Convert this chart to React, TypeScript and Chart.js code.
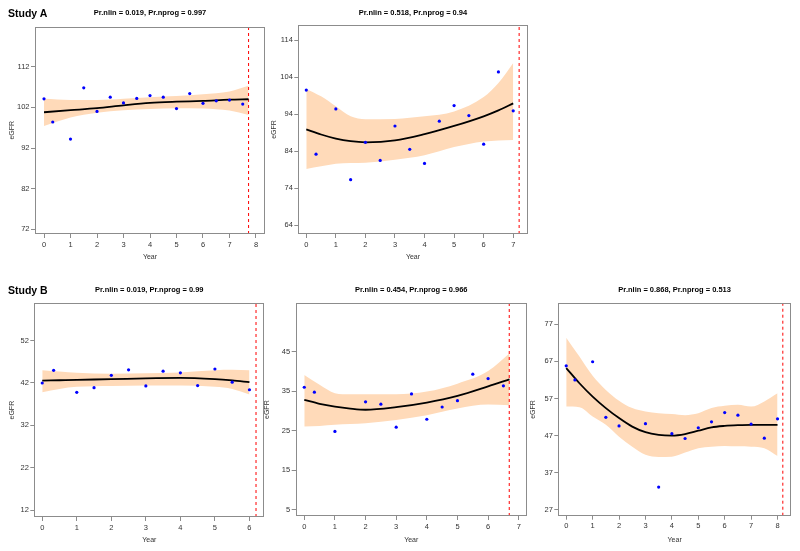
import React, { useEffect, useRef } from "react";
import { Chart, registerables } from "chart.js";
Chart.register(...registerables);

const FONT = '"Liberation Sans", Arial, Helvetica, sans-serif';

// ---------- Study A, panel 1 ----------
const a1Title = "Pr.nlin = 0.019, Pr.nprog = 0.997";
const a1XTicks = [0, 1, 2, 3, 4, 5, 6, 7, 8];
const a1YTicks = [72, 82, 92, 102, 112];
const a1PointX = [0, 0.33, 1, 1.5, 2, 2.5, 3, 3.5, 4, 4.5, 5, 5.5, 6, 6.5, 7, 7.5];
const a1PointY = [104.1, 98.4, 94.2, 106.8, 101.0, 104.5, 103.1, 104.2, 104.9, 104.5, 101.7, 105.4, 103.0, 103.6, 103.8, 102.8];
const a1CurveX = [0, 1, 2, 3, 4, 5, 6, 7, 7.72];
const a1Fit = [100.8, 101.3, 101.8, 102.5, 103.1, 103.4, 103.6, 103.9, 104.0];
const a1Upper = [104.1, 103.8, 103.8, 104.1, 104.5, 104.8, 105.2, 105.9, 107.3];
const a1Lower = [97.4, 99.5, 100.7, 101.3, 101.6, 101.8, 101.7, 101.2, 100.1];
const a1Cutoff = 7.72;

// ---------- Study A, panel 2 ----------
const a2Title = "Pr.nlin = 0.518, Pr.nprog = 0.94";
const a2XTicks = [0, 1, 2, 3, 4, 5, 6, 7];
const a2YTicks = [64, 74, 84, 94, 104, 114];
const a2PointX = [0, 0.33, 1, 1.5, 2, 2.5, 3, 3.5, 4, 4.5, 5, 5.5, 6, 6.5, 7];
const a2PointY = [100.5, 83.2, 95.4, 76.3, 86.4, 81.5, 90.8, 84.5, 80.7, 92.1, 96.3, 93.6, 85.9, 105.4, 94.9];
const a2CurveX = [0, 0.5, 1, 1.5, 2, 3, 4, 5, 6, 6.5, 7];
const a2Fit = [89.9, 88.5, 87.4, 86.7, 86.4, 86.9, 88.6, 90.8, 93.4, 95.0, 96.9];
const a2Upper = [100.8, 98.8, 96.1, 93.4, 92.6, 92.7, 93.4, 94.7, 98.6, 102.4, 107.8];
const a2Lower = [79.2, 79.9, 80.6, 80.8, 80.9, 81.7, 82.9, 85.1, 86.6, 86.9, 87.0];
const a2Cutoff = 7.2;

// ---------- Study B, panel 1 ----------
const b1Title = "Pr.nlin = 0.019, Pr.nprog = 0.99";
const b1XTicks = [0, 1, 2, 3, 4, 5, 6];
const b1YTicks = [12, 22, 32, 42, 52];
const b1PointX = [0, 0.33, 1, 1.5, 2, 2.5, 3, 3.5, 4, 4.5, 5, 5.5, 6];
const b1PointY = [42.0, 45.0, 39.8, 40.9, 43.8, 45.1, 41.3, 44.8, 44.4, 41.4, 45.3, 42.2, 40.4];
const b1CurveX = [0, 0.5, 1, 2, 3, 4, 5, 5.5, 6];
const b1Fit = [42.55, 42.65, 42.75, 42.9, 43.1, 43.2, 42.9, 42.6, 42.2];
const b1Upper = [45.0, 44.7, 44.4, 44.2, 44.3, 44.5, 45.0, 45.1, 45.0];
const b1Lower = [39.8, 40.6, 41.1, 41.3, 41.4, 41.4, 41.1, 40.6, 39.3];
const b1Cutoff = 6.19;

// ---------- Study B, panel 2 ----------
const b2Title = "Pr.nlin = 0.454, Pr.nprog = 0.966";
const b2XTicks = [0, 1, 2, 3, 4, 5, 6, 7];
const b2YTicks = [5, 15, 25, 35, 45];
const b2PointX = [0, 0.33, 1, 2, 2.5, 3, 3.5, 4, 4.5, 5, 5.5, 6, 6.5];
const b2PointY = [36.0, 34.75, 24.8, 32.3, 31.7, 25.9, 34.3, 27.9, 31.0, 32.6, 39.3, 38.2, 36.35];
const b2CurveX = [0, 0.5, 1, 1.5, 2, 3, 4, 5, 6, 6.7];
const b2Fit = [32.8, 31.8, 31.1, 30.6, 30.3, 30.95, 32.1, 33.8, 36.2, 38.0];
const b2Upper = [39.1, 36.6, 34.5, 34.2, 34.2, 34.2, 34.9, 36.9, 40.1, 44.6];
const b2Lower = [26.05, 26.2, 26.5, 26.7, 26.9, 27.7, 28.9, 30.6, 31.6, 31.45];
const b2Cutoff = 6.69;

// ---------- Study B, panel 3 ----------
const b3Title = "Pr.nlin = 0.868, Pr.nprog = 0.513";
const b3XTicks = [0, 1, 2, 3, 4, 5, 6, 7, 8];
const b3YTicks = [27, 37, 47, 57, 67, 77];
const b3PointX = [0, 0.33, 1, 1.5, 2, 3, 3.5, 4, 4.5, 5, 5.5, 6, 6.5, 7, 7.5, 8];
const b3PointY = [65.8, 62.0, 66.9, 51.9, 49.6, 50.2, 33.1, 47.5, 46.2, 49.1, 50.7, 53.2, 52.5, 50.1, 46.3, 51.5];
const b3CurveX = [0, 0.5, 1, 1.5, 2, 2.5, 3, 3.5, 4, 4.5, 5, 5.5, 6, 6.5, 7, 7.5, 8];
const b3Fit = [65.2, 61.1, 57.5, 54.4, 51.7, 49.4, 47.9, 47.2, 47.0, 47.4, 48.3, 49.2, 49.6, 49.8, 49.9, 49.9, 49.9];
const b3Upper = [73.4, 68.3, 63.1, 59.3, 56.4, 54.4, 53.5, 53.0, 52.8, 52.5, 53.0, 54.4, 55.0, 55.3, 54.8, 56.2, 58.4];
const b3Lower = [54.8, 54.6, 52.1, 49.9, 46.7, 44.0, 41.8, 41.2, 41.3, 42.4, 43.6, 44.0, 44.2, 44.1, 44.0, 43.6, 41.5];
const b3Cutoff = 8.2;

const studyLabels = ["Study A", "Study B"];

type Series = {
  title: string;
  xTicks: number[];
  yTicks: number[];
  px: number[];
  py: number[];
  cx: number[];
  fit: number[];
  up: number[];
  lo: number[];
  cutoff: number;
};

type Geo = {
  l: number; t: number; r: number; b: number;
  top: number; titleY: number; ylabX: number; yearY: number;
  xMin: number; xMax: number; yMin: number; yMax: number;
};

const panels: { s: Series; g: Geo }[] = [
  {
    s: { title: a1Title, xTicks: a1XTicks, yTicks: a1YTicks, px: a1PointX, py: a1PointY, cx: a1CurveX, fit: a1Fit, up: a1Upper, lo: a1Lower, cutoff: a1Cutoff },
    g: { l: 35, t: 26.5, r: 265, b: 234, top: 0, titleY: 13.3, ylabX: 12, yearY: 257.3, xMin: -0.34, xMax: 8.34, yMin: 70.84, yMax: 121.9 },
  },
  {
    s: { title: a2Title, xTicks: a2XTicks, yTicks: a2YTicks, px: a2PointX, py: a2PointY, cx: a2CurveX, fit: a2Fit, up: a2Upper, lo: a2Lower, cutoff: a2Cutoff },
    g: { l: 298.3, t: 25, r: 527.7, b: 234, top: 0, titleY: 13.3, ylabX: 274, yearY: 257.3, xMin: -0.27, xMax: 7.49, yMin: 61.65, yMax: 118.05 },
  },
  {
    s: { title: b1Title, xTicks: b1XTicks, yTicks: b1YTicks, px: b1PointX, py: b1PointY, cx: b1CurveX, fit: b1Fit, up: b1Upper, lo: b1Lower, cutoff: b1Cutoff },
    g: { l: 34.3, t: 303.3, r: 264.3, b: 517, top: 270, titleY: 290, ylabX: 11.7, yearY: 540.5, xMin: -0.23, xMax: 6.43, yMin: 10.35, yMax: 60.82 },
  },
  {
    s: { title: b2Title, xTicks: b2XTicks, yTicks: b2YTicks, px: b2PointX, py: b2PointY, cx: b2CurveX, fit: b2Fit, up: b2Upper, lo: b2Lower, cutoff: b2Cutoff },
    g: { l: 295.7, t: 303.3, r: 526.7, b: 516, top: 270, titleY: 290, ylabX: 267, yearY: 540.5, xMin: -0.28, xMax: 7.26, yMin: 3.4, yMax: 57.25 },
  },
  {
    s: { title: b3Title, xTicks: b3XTicks, yTicks: b3YTicks, px: b3PointX, py: b3PointY, cx: b3CurveX, fit: b3Fit, up: b3Upper, lo: b3Lower, cutoff: b3Cutoff },
    g: { l: 558.3, t: 303.3, r: 791, b: 515.7, top: 270, titleY: 290, ylabX: 533, yearY: 540.5, xMin: -0.3, xMax: 8.51, yMin: 25.38, yMax: 82.66 },
  },
];

const TICK_SIZE = 7.5;
const AXIS_SIZE = 7;
const TITLE_SIZE = 7.5;
const LH = 1.2;
const BOX_COLOR = "#8c8c8c";

const boxPlugin = {
  id: "rbox",
  afterDraw(chart: any) {
    const { ctx, chartArea: a } = chart;
    const x0 = Math.round(a.left) + 0.5;
    const y0 = Math.round(a.top) + 0.5;
    const x1 = Math.round(a.right) - 0.5;
    const y1 = Math.round(a.bottom) - 0.5;
    ctx.save();
    ctx.strokeStyle = BOX_COLOR;
    ctx.lineWidth = 1;
    ctx.strokeRect(x0, y0, x1 - x0, y1 - y0);
    ctx.restore();
  },
};

function Panel({ s, g }: { s: Series; g: Geo }) {
  const ref = useRef<HTMLCanvasElement | null>(null);

  const axisLH = AXIS_SIZE * LH;
  const titleLH = TITLE_SIZE * LH;
  const canvasLeft = Math.floor(g.ylabX - axisLH / 2 - 1);
  const yTitlePad = g.ylabX - canvasLeft - axisLH / 2;
  const yw = g.l - canvasLeft;
  const canvasTop = g.top;
  const tPadTop = g.titleY - canvasTop - titleLH / 2;
  const tPadBottom = g.t - g.titleY - titleLH / 2;
  const xh = g.yearY - g.b + axisLH / 2;
  const H = Math.ceil(g.b + xh - canvasTop) + 1;
  const padBottom = H - xh - (g.b - canvasTop);
  const right = Math.min(800, Math.ceil(g.r) + 8);
  const W = right - canvasLeft;
  const padRight = right - g.r;

  useEffect(() => {
    if (!ref.current) return;
    const pts = s.px.map((x, i) => ({ x, y: s.py[i] }));
    const fit = s.cx.map((x, i) => ({ x, y: s.fit[i] }));
    const up = s.cx.map((x, i) => ({ x, y: s.up[i] }));
    const lo = s.cx.map((x, i) => ({ x, y: s.lo[i] }));
    const cut = [
      { x: s.cutoff, y: g.yMin },
      { x: s.cutoff, y: g.yMax },
    ];
    const chart = new Chart(ref.current, {
      type: "line",
      data: {
        datasets: [
          {
            data: pts,
            showLine: false,
            pointRadius: 1.6,
            pointBorderWidth: 0,
            pointBackgroundColor: "#0000ff",
            borderColor: "#0000ff",
          },
          {
            data: fit,
            borderColor: "#000000",
            borderWidth: 1.8,
            pointRadius: 0,
            cubicInterpolationMode: "monotone",
            fill: false,
          },
          {
            data: cut,
            borderColor: "#ff0000",
            borderWidth: 1,
            borderDash: [3, 3],
            pointRadius: 0,
            fill: false,
          },
          {
            data: up,
            borderWidth: 0,
            borderColor: "rgba(0,0,0,0)",
            backgroundColor: "#FFDAB9",
            pointRadius: 0,
            cubicInterpolationMode: "monotone",
            fill: "+1",
          },
          {
            data: lo,
            borderWidth: 0,
            borderColor: "rgba(0,0,0,0)",
            backgroundColor: "#FFDAB9",
            pointRadius: 0,
            cubicInterpolationMode: "monotone",
            fill: false,
          },
        ],
      },
      options: {
        animation: false,
        responsive: false,
        maintainAspectRatio: false,
        devicePixelRatio: 1,
        layout: { padding: { left: 0, top: 0, right: padRight, bottom: padBottom } },
        plugins: {
          legend: { display: false },
          tooltip: { enabled: false },
          title: {
            display: true,
            fullSize: false,
            text: s.title,
            color: "#000000",
            font: { family: FONT, size: TITLE_SIZE, weight: "bold", lineHeight: LH },
            padding: { top: tPadTop, bottom: tPadBottom },
          },
        },
        scales: {
          x: {
            type: "linear",
            min: g.xMin,
            max: g.xMax,
            afterBuildTicks: (sc: any) => {
              sc.ticks = s.xTicks.map((v) => ({ value: v }));
            },
            afterFit: (sc: any) => {
              sc.height = xh;
            },
            ticks: {
              autoSkip: false,
              maxRotation: 0,
              padding: 2,
              color: "#333333",
              font: { family: FONT, size: TICK_SIZE },
              callback: (v: any) => String(v),
            },
            grid: { drawOnChartArea: false, drawTicks: true, tickLength: 4, color: BOX_COLOR },
            border: { display: false },
            title: {
              display: true,
              text: "Year",
              color: "#333333",
              font: { family: FONT, size: AXIS_SIZE, lineHeight: LH },
              padding: { top: 0, bottom: 0 },
            },
          },
          y: {
            type: "linear",
            min: g.yMin,
            max: g.yMax,
            afterBuildTicks: (sc: any) => {
              sc.ticks = s.yTicks.map((v) => ({ value: v }));
            },
            afterFit: (sc: any) => {
              sc.width = yw;
            },
            ticks: {
              autoSkip: false,
              padding: 1.5,
              color: "#333333",
              font: { family: FONT, size: TICK_SIZE },
              callback: (v: any) => String(v),
            },
            grid: { drawOnChartArea: false, drawTicks: true, tickLength: 4, color: BOX_COLOR },
            border: { display: false },
            title: {
              display: true,
              text: "eGFR",
              color: "#333333",
              font: { family: FONT, size: AXIS_SIZE, lineHeight: LH },
              padding: { top: yTitlePad, bottom: 0 },
            },
          },
        },
      },
      plugins: [boxPlugin],
    } as any);
    return () => chart.destroy();
  }, []);

  return (
    <canvas
      ref={ref}
      width={W}
      height={H}
      style={{ position: "absolute", left: canvasLeft, top: canvasTop, width: W, height: H }}
    />
  );
}

export default function App() {
  return (
    <div
      style={{
        position: "absolute",
        left: 0,
        top: 0,
        width: 800,
        height: 551,
        background: "#ffffff",
        overflow: "hidden",
      }}
    >
      {panels.map((p, i) => (
        <Panel key={i} s={p.s} g={p.g} />
      ))}
      <div
        style={{
          position: "absolute",
          left: 8,
          top: 13.3 - 7,
          lineHeight: "14px",
          fontFamily: FONT,
          fontWeight: "bold",
          fontSize: 10.5,
          color: "#000",
        }}
      >
        {studyLabels[0]}
      </div>
      <div
        style={{
          position: "absolute",
          left: 8,
          top: 289.5 - 7,
          lineHeight: "14px",
          fontFamily: FONT,
          fontWeight: "bold",
          fontSize: 10.5,
          color: "#000",
        }}
      >
        {studyLabels[1]}
      </div>
    </div>
  );
}
